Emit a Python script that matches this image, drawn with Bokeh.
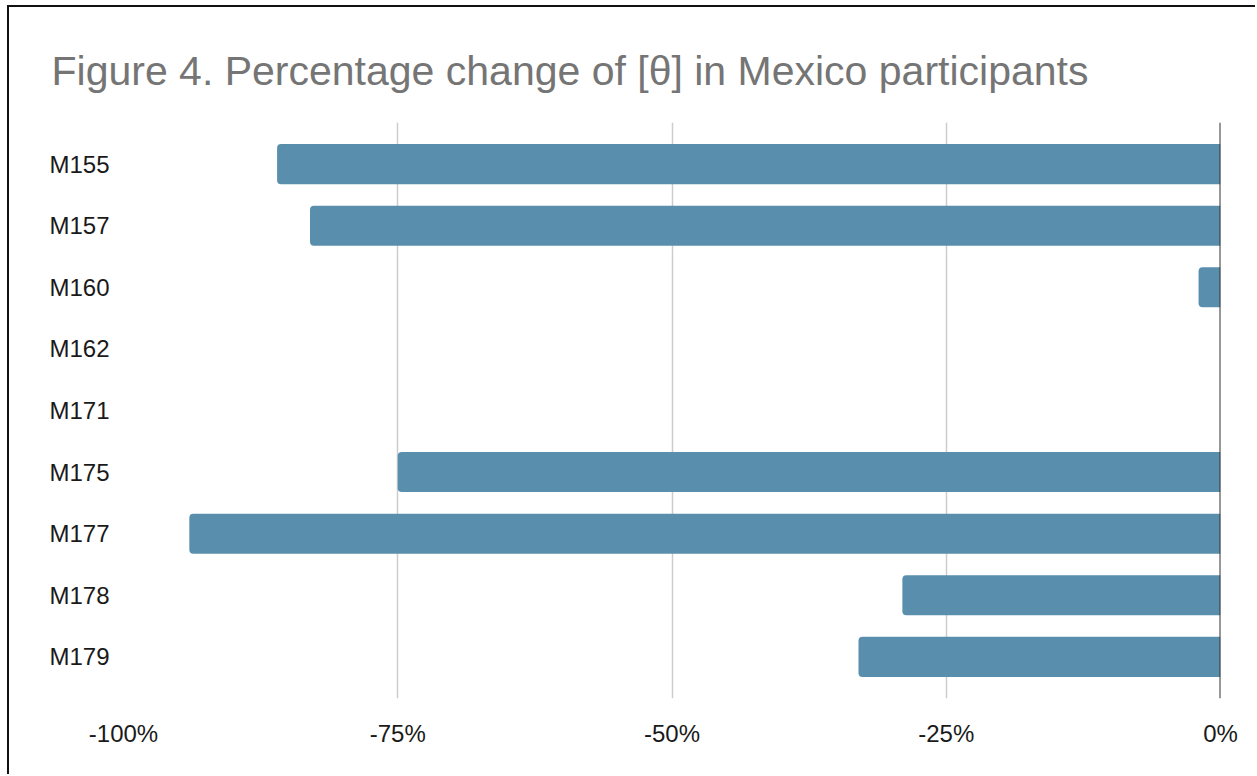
from bokeh.plotting import figure
from bokeh.models import FactorRange, Span, FixedTicker, CustomJSTickFormatter, Title
from bokeh.embed import file_html
from bokeh.resources import INLINE

participants = ["M155", "M157", "M160", "M162", "M171", "M175", "M177", "M178", "M179"]
pct_change = [-0.86, -0.83, -0.02, 0.0, 0.0, -0.75, -0.94, -0.29, -0.33]
x_ticks = [-1.0, -0.75, -0.5, -0.25, 0.0]
x_tick_labels = ["-100%", "-75%", "-50%", "-25%", "0%"]
title_text = "Figure 4. Percentage change of [\u03b8] in Mexico participants"

FONT = "Liberation Sans"

p = figure(
    width=1248, height=769,
    y_range=FactorRange(factors=list(reversed(participants)), range_padding=0.039),
    x_range=(-1.0, 0.0),
    output_backend="svg", toolbar_location=None,
    min_border_left=114, min_border_right=37, min_border_top=115, min_border_bottom=78,
)
p.styles = {"margin-left": "7px", "margin-top": "5px",
            "border-left": "2px solid #111", "border-top": "2px solid #111"}
p.outline_line_color = None
p.title = Title(text=title_text, text_font=FONT, text_font_size="41px",
                text_color="#757575", text_font_style="normal", offset=-72, standoff=58)

p.hbar(y=participants, left=pct_change, right=0, height=0.65,
       fill_color="#598FAD", line_color=None, border_radius=(4, 0, 0, 4))

p.add_layout(Span(location=0, dimension="height", line_color="#333333", line_width=2))

p.xaxis.ticker = FixedTicker(ticks=x_ticks)
labels_js = "{" + ",".join(f'"{t}":"{l}"' for t, l in zip(x_ticks, x_tick_labels)) + "}"
p.xaxis.formatter = CustomJSTickFormatter(code=f"const m={labels_js}; const k=String(tick); return (k in m)? m[k] : (Math.round(tick*100)+'%');")
for ax in (p.xaxis, p.yaxis):
    ax.axis_line_color = None
    ax.major_tick_line_color = None
    ax.minor_tick_line_color = None
    ax.major_label_text_font = FONT
    ax.major_label_text_font_size = "24px"
    ax.major_label_text_color = "#1a1a1a"
p.xaxis.major_label_standoff = 15
p.yaxis.major_label_standoff = 8

p.xgrid.grid_line_color = "#cccccc"
p.xgrid.grid_line_width = 1.5
p.ygrid.grid_line_color = None

open("out.html", "w").write(file_html(p, INLINE))
